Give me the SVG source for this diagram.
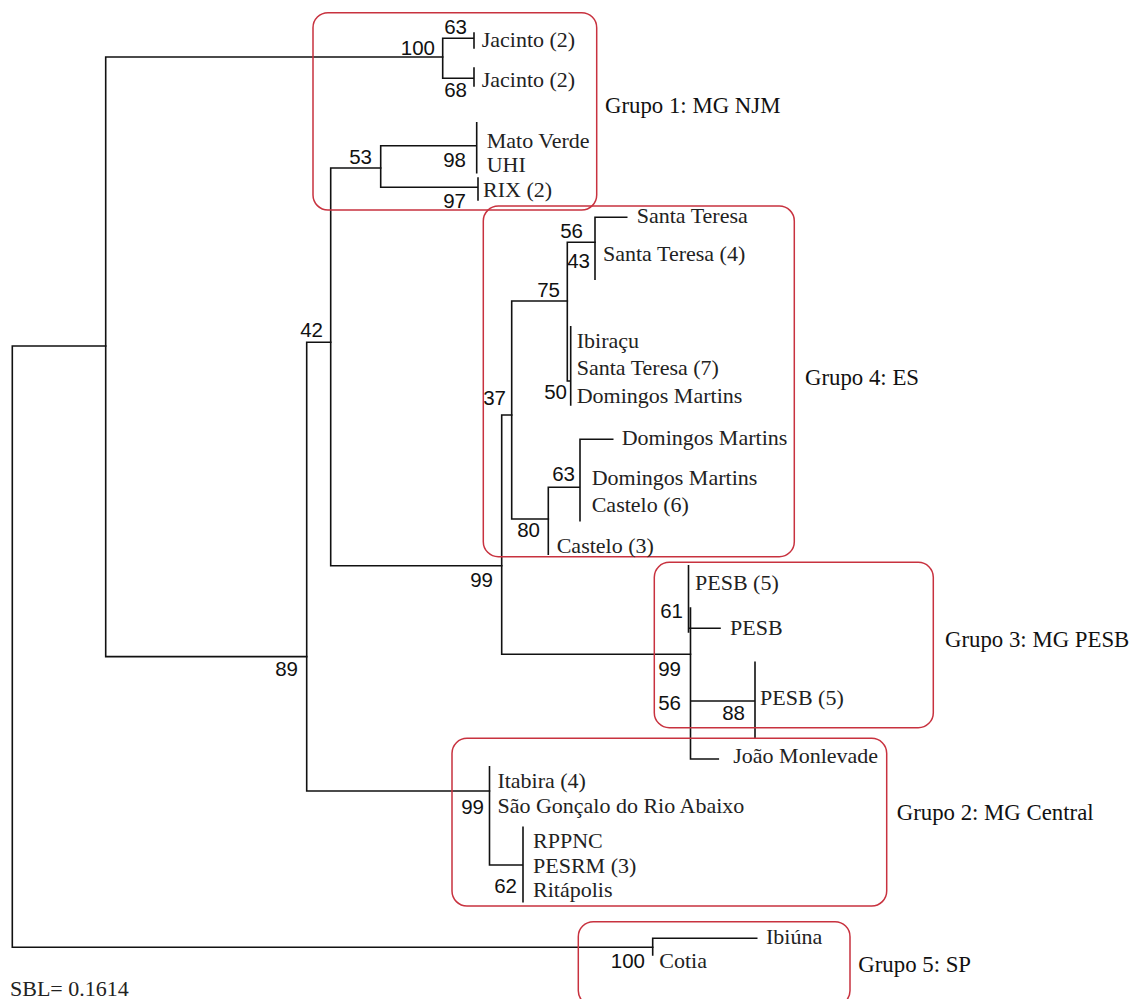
<svg xmlns="http://www.w3.org/2000/svg" width="1135" height="999" viewBox="0 0 1135 999">
<style>
.br{fill:none;stroke:#111;stroke-width:1.6;stroke-linecap:square}
.box{fill:none;stroke:#c8323f;stroke-width:1.5}
.lf{font-family:"Liberation Serif","Times New Roman",serif;font-size:22px;fill:#222}
.gl{font-family:"Liberation Serif","Times New Roman",serif;font-size:22.8px;fill:#111}
.bs{font-family:"Liberation Sans",Arial,sans-serif;font-size:20.5px;fill:#111;text-anchor:end}
</style>
<rect width="1135" height="999" fill="#fff"/>
<g id="connectors" class="br">
<path d="M12.3,346V947.3M12.3,346H105.7M12.3,947.3H652.7"/>
<path d="M105.7,57V656.6M105.7,57H442.7M105.7,656.6H306.7"/>
<path d="M442.7,38.3V78.3M442.7,38.3H474M442.7,78.3H474M474,33V48M474,68V86"/>
<path d="M306.7,342.3V791M306.7,342.3H330.7M306.7,791H489.5"/>
<path d="M330.7,168V565.7M330.7,168H380.7M330.7,565.7H501.7"/>
<path d="M380.7,145.7V187.3M380.7,145.7H476.7M380.7,187.3H478M476.7,122.7V172.7M478,178V200"/>
<path d="M501.7,415V654.3M501.7,415H511.7M501.7,654.3H690.5"/>
<path d="M511.7,301V519M511.7,301H567.3M511.7,519H548.3"/>
<path d="M567.3,242.3V381M567.3,242.3H595M567.3,381H570.7M570.7,326.7V405"/>
<path d="M595,217.3V279.3M595,217.3H626.7"/>
<path d="M548.3,487.3V554.3M548.3,487.3H580M580,439.3V520.7M580,439.3H612.7"/>
<path d="M688.5,565.7V632M690.5,608V759M688.5,628.3H720M690.5,701H755M755,662.3V737.7M690.5,759H718.3"/>
<path d="M489.5,766.7V865M489.5,865H523M523,827.3V901.7"/>
<path d="M652.7,938.3V955M652.7,938.3H756.7"/>
</g>
<g id="bootstrap">
<text class="bs" x="435" y="55">100</text>
<text class="bs" x="467" y="34">63</text>
<text class="bs" x="467" y="97">68</text>
<text class="bs" x="372" y="164">53</text>
<text class="bs" x="466" y="167">98</text>
<text class="bs" x="466" y="208">97</text>
<text class="bs" x="323" y="337">42</text>
<text class="bs" x="298" y="676">89</text>
<text class="bs" x="583" y="238">56</text>
<text class="bs" x="590" y="268">43</text>
<text class="bs" x="560" y="297">75</text>
<text class="bs" x="567" y="399">50</text>
<text class="bs" x="506" y="405">37</text>
<text class="bs" x="575" y="481">63</text>
<text class="bs" x="540" y="537">80</text>
<text class="bs" x="493" y="587">99</text>
<text class="bs" x="683" y="618">61</text>
<text class="bs" x="681" y="676">99</text>
<text class="bs" x="681" y="710">56</text>
<text class="bs" x="745" y="720">88</text>
<text class="bs" x="484" y="814">99</text>
<text class="bs" x="517" y="893">62</text>
<text class="bs" x="645" y="968">100</text>
</g>
<g id="grupo1">
<rect class="box" x="313" y="12.7" width="283.7" height="197.3" rx="15"/>
<text class="gl" x="605" y="113">Grupo 1: MG NJM</text>
<text class="lf" x="481.7" y="46.7">Jacinto (2)</text>
<text class="lf" x="481.7" y="87">Jacinto (2)</text>
<text class="lf" x="486.7" y="148">Mato Verde</text>
<text class="lf" x="486.7" y="171.7">UHI</text>
<text class="lf" x="483" y="196.7">RIX (2)</text>
</g>
<g id="grupo4">
<rect class="box" x="483.3" y="206" width="311" height="350.7" rx="15"/>
<text class="gl" x="805" y="385">Grupo 4: ES</text>
<text class="lf" x="636.7" y="223">Santa Teresa</text>
<text class="lf" x="603" y="260.7">Santa Teresa (4)</text>
<text class="lf" x="576.7" y="348.3">Ibiraçu</text>
<text class="lf" x="576.7" y="375">Santa Teresa (7)</text>
<text class="lf" x="576.7" y="403">Domingos Martins</text>
<text class="lf" x="621.7" y="445">Domingos Martins</text>
<text class="lf" x="591.7" y="485">Domingos Martins</text>
<text class="lf" x="591.7" y="511.7">Castelo (6)</text>
<text class="lf" x="556.7" y="553.3">Castelo (3)</text>
</g>
<g id="grupo3">
<rect class="box" x="654.3" y="562.3" width="279" height="165.4" rx="15"/>
<text class="gl" x="945" y="646.7">Grupo 3: MG PESB</text>
<text class="lf" x="695" y="590">PESB (5)</text>
<text class="lf" x="730" y="635">PESB</text>
<text class="lf" x="760" y="705">PESB (5)</text>
</g>
<g id="joao">
<text class="lf" x="733.3" y="763.3">João Monlevade</text>
</g>
<g id="grupo2">
<rect class="box" x="452" y="738.3" width="434.7" height="167.7" rx="15"/>
<text class="gl" x="896.7" y="820">Grupo 2: MG Central</text>
<text class="lf" x="497.4" y="788.3">Itabira (4)</text>
<text class="lf" x="497.4" y="813.3">São Gonçalo do Rio Abaixo</text>
<text class="lf" x="533" y="848.3">RPPNC</text>
<text class="lf" x="533" y="872.7">PESRM (3)</text>
<text class="lf" x="533" y="896.7">Ritápolis</text>
</g>
<g id="grupo5">
<rect class="box" x="578.3" y="921.7" width="271.7" height="84" rx="15"/>
<text class="gl" x="858.3" y="971.7">Grupo 5: SP</text>
<text class="lf" x="766" y="944">Ibiúna</text>
<text class="lf" x="659.3" y="968.3">Cotia</text>
</g>
<g id="scale">
<text class="lf" x="10" y="996">SBL= 0.1614</text>
</g>
</svg>
